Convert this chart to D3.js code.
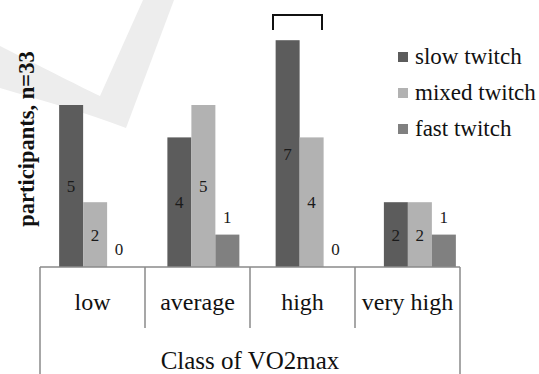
<!DOCTYPE html>
<html>
<head>
<meta charset="utf-8">
<script src="https://cdn.jsdelivr.net/npm/d3@7"></script>
<style>
  body { margin: 0; background: #fff; }
</style>
</head>
<body>
<div id="chart"></div>
<script>
// data
const categories = ["low", "average", "high", "very high"];
const seriesNames = ["slow twitch", "mixed twitch", "fast twitch"];
const slowTwitch = [5, 4, 7, 2];
const mixedTwitch = [2, 5, 4, 2];
const fastTwitch = [0, 1, 0, 1];
const yMax = 7;

const width = 539, height = 374;
const baseY = 267;
const serif = '"Liberation Serif", "Times New Roman", serif';

const svg = d3.select("#chart")
    .append("svg")
    .attr("width", width)
    .attr("height", height)
    .style("display", "block")
    .style("font-family", serif);

// faint watermark swoosh in the background
svg.append("path")
    .attr("d", "M0,46 C40,66 75,84 100,96 L143,0 L174,0 L126,128 C85,112 40,100 0,88 Z")
    .attr("fill", "#ededed");

const color = d3.scaleOrdinal()
    .domain(seriesNames)
    .range(["#5c5c5c", "#b2b2b2", "#808080"]);

// category axis (the table-like frame below the bars)
const xCat = d3.scaleBand()
    .domain(categories)
    .range([40, 460]);

// bar groups sit on a slightly wider grid than the label cells
const x0 = d3.scaleBand()
    .domain(categories)
    .range([41, 474])
    .paddingInner(0.335)
    .paddingOuter(0.1675);

const x1 = d3.scaleBand()
    .domain(seriesNames)
    .range([0, x0.bandwidth()]);

const y = d3.scaleLinear()
    .domain([0, yMax])
    .range([baseY, 40.2]);

const rows = categories.map((c, i) => ({
    cat: c,
    values: [
        { name: seriesNames[0], value: slowTwitch[i] },
        { name: seriesNames[1], value: mixedTwitch[i] },
        { name: seriesNames[2], value: fastTwitch[i] }
    ]
}));

const groups = svg.selectAll(".grp")
    .data(rows)
    .join("g")
    .attr("class", "grp")
    .attr("transform", d => `translate(${x0(d.cat)},0)`);

groups.selectAll("rect")
    .data(d => d.values)
    .join("rect")
    .attr("x", d => x1(d.name))
    .attr("y", d => y(d.value))
    .attr("width", x1.bandwidth())
    .attr("height", d => y(0) - y(d.value))
    .attr("fill", d => color(d.name));

// value labels: centred in the bar, above it when the bar is short
groups.selectAll("text")
    .data(d => d.values)
    .join("text")
    .attr("x", d => x1(d.name) + x1.bandwidth() / 2)
    .attr("y", d => d.value < 2 ? y(d.value) - 18 : (y(d.value) + y(0)) / 2)
    .attr("dy", "0.35em")
    .attr("text-anchor", "middle")
    .style("font-size", "17px")
    .attr("fill", "#1a1a1a")
    .text(d => d.value);

// frame lines
const frame = svg.append("g")
    .attr("stroke", "#8a8a8a")
    .attr("stroke-width", 1.5);

frame.append("line")
    .attr("x1", xCat.range()[0]).attr("x2", xCat.range()[1])
    .attr("y1", baseY).attr("y2", baseY);

const edges = categories.map(c => xCat(c)).concat([xCat.range()[1]]);
frame.selectAll(".div")
    .data(edges)
    .join("line")
    .attr("x1", d => d).attr("x2", d => d)
    .attr("y1", baseY)
    .attr("y2", (d, i) => (i === 0 || i === edges.length - 1) ? height : 328);

// category labels
svg.selectAll(".cat")
    .data(categories)
    .join("text")
    .attr("class", "cat")
    .attr("x", d => xCat(d) + xCat.bandwidth() / 2)
    .attr("y", 310)
    .attr("text-anchor", "middle")
    .style("font-size", "24px")
    .attr("fill", "#111")
    .text(d => d);

// axis titles
svg.append("text")
    .attr("x", (xCat.range()[0] + xCat.range()[1]) / 2)
    .attr("y", 369)
    .attr("text-anchor", "middle")
    .style("font-size", "25px")
    .attr("fill", "#111")
    .text("Class of VO2max");

svg.append("text")
    .attr("transform", "translate(34,139) rotate(-90)")
    .attr("text-anchor", "middle")
    .style("font-size", "22.5px")
    .style("font-weight", "bold")
    .attr("fill", "#111")
    .text("participants, n=33");

// bracket over the "high" group
svg.append("path")
    .attr("d", "M273,30 L273,15 L322,15 L322,30")
    .attr("fill", "none")
    .attr("stroke", "#111")
    .attr("stroke-width", 2);

// legend
const legend = svg.append("g")
    .attr("transform", "translate(398,57)");

seriesNames.forEach((name, i) => {
    const g = legend.append("g")
        .attr("transform", `translate(0, ${i * 36})`);
    g.append("rect")
        .attr("x", 0)
        .attr("y", -5)
        .attr("width", 10)
        .attr("height", 10)
        .attr("fill", color(name));
    g.append("text")
        .attr("x", 17)
        .attr("y", 7)
        .style("font-size", "23px")
        .attr("fill", "#111")
        .text(name);
});
</script>
</body>
</html>
